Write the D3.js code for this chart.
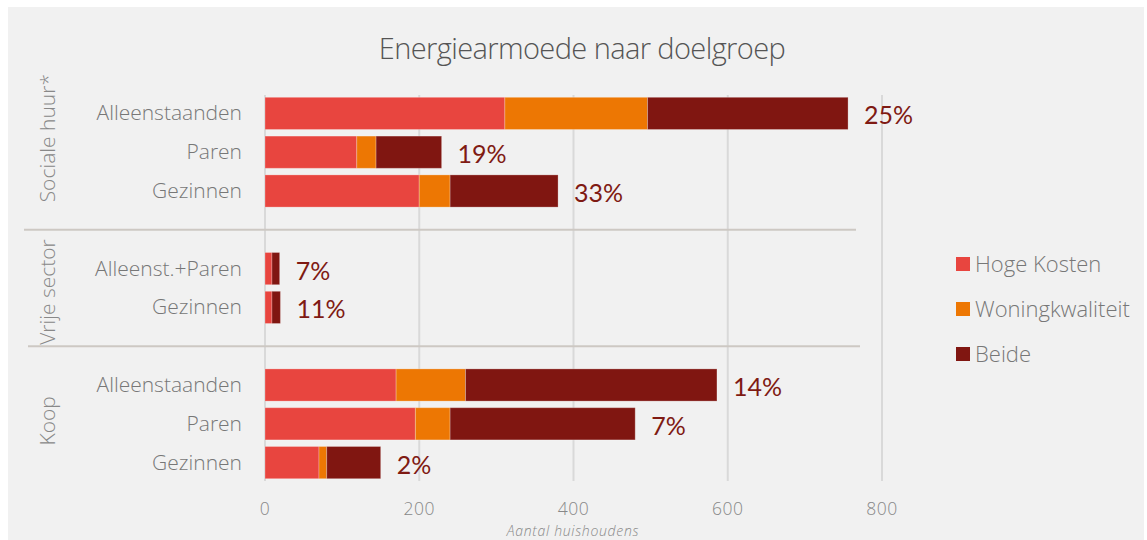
<!DOCTYPE html>
<html lang="nl">
<head>
<meta charset="UTF-8">
<title>Energiearmoede naar doelgroep</title>
<script src="https://d3js.org/d3.v7.min.js"></script>
<style>
  body { margin: 0; background: #fff; }
  text { font-family: "Open Sans", "Noto Sans", sans-serif; }
</style>
</head>
<body>
<div id="chart"></div>

<script>
// Data
const rows = ["s0", "s1", "s2", "gap1", "v0", "v1", "gap2", "k0", "k1", "k2"];
const rowLabels = ["Alleenstaanden", "Paren", "Gezinnen", "", "Alleenst.+Paren", "Gezinnen", "", "Alleenstaanden", "Paren", "Gezinnen"];
const hogeKosten = [311, 119, 200, null, 9, 9, null, 170, 195, 70];
const woningkwaliteit = [185, 25, 40, null, 0, 0, null, 90, 45, 10];
const beide = [260, 85, 140, null, 10, 11, null, 326, 240, 70];
const percentages = ["25%", "19%", "33%", "", "7%", "11%", "", "14%", "7%", "2%"];
const groupNames = ["Sociale huur*", "Vrije sector", "Koop"];
const groupRows = [["s0", "s2"], ["v0", "v1"], ["k0", "k2"]];
const seriesNames = ["Hoge Kosten", "Woningkwaliteit", "Beide"];
const colors = ["#e8453f", "#ed7703", "#801611"];
const xTicks = [0, 200, 400, 600, 800];

const W = 1147, H = 540;
const margin = { top: 94, left: 265 };
const plotW = 617;  // 0..800
const groupShift = [-14, 4, -3];  // small vertical nudges of the rotated group labels

const svg = d3.select("#chart").append("svg")
  .attr("width", W)
  .attr("height", H);

// Panel background
svg.append("rect")
  .attr("x", 8).attr("y", 7)
  .attr("width", W - 11).attr("height", H - 7)
  .attr("fill", "#f1f1f1");

const x = d3.scaleLinear().domain([0, 800]).range([margin.left, margin.left + plotW]);
const y = d3.scaleBand().domain(rows).range([margin.top, 482]).paddingInner(0.17).paddingOuter(0.085);

// Title
svg.append("text")
  .attr("x", 582).attr("y", 59)
  .attr("text-anchor", "middle")
  .attr("fill", "#555")
  .style("font-size", "29px")
  .style("font-weight", 300)
  .style("letter-spacing", "-0.6px")
  .text("Energiearmoede naar doelgroep");

// Vertical gridlines
svg.append("g").selectAll("line")
  .data(xTicks)
  .join("line")
  .attr("x1", d => x(d)).attr("x2", d => x(d))
  .attr("y1", 95).attr("y2", 481)
  .attr("stroke", "#d9d9d9")
  .attr("stroke-width", 2);

// Group dividers
const dividerData = [
  { y: (y("s2") + y.bandwidth() + y("v0")) / 2, x1: 24, x2: 856 },
  { y: (y("v1") + y.bandwidth() + y("k0")) / 2, x1: 28, x2: 860 }
];
svg.append("g").selectAll("line")
  .data(dividerData)
  .join("line")
  .attr("x1", d => d.x1).attr("x2", d => d.x2)
  .attr("y1", d => d.y).attr("y2", d => d.y)
  .attr("stroke", "#cdc8c3")
  .attr("stroke-width", 2);

// Stacked bars
const table = rows.map((r, i) => ({
  row: r,
  "Hoge Kosten": hogeKosten[i] || 0,
  "Woningkwaliteit": woningkwaliteit[i] || 0,
  "Beide": beide[i] || 0,
  empty: hogeKosten[i] === null
})).filter(d => !d.empty);

const stack = d3.stack().keys(seriesNames)(table);

svg.append("g").selectAll("g")
  .data(stack)
  .join("g")
  .attr("fill", (d, i) => colors[i])
  .selectAll("rect")
  .data(d => d.filter(p => p[1] > p[0]))
  .join("rect")
  .attr("x", d => x(d[0]))
  .attr("y", d => y(d.data.row))
  .attr("width", d => x(d[1]) - x(d[0]))
  .attr("height", y.bandwidth())
  .attr("stroke", "rgba(255,255,255,0.25)")
  .attr("stroke-width", 1);

// Percent labels
svg.append("g").selectAll("text")
  .data(table)
  .join("text")
  .attr("x", d => x(d["Hoge Kosten"] + d["Woningkwaliteit"] + d["Beide"]) + 16)
  .attr("y", d => y(d.row) + y.bandwidth() / 2 + 11)
  .attr("fill", "#7f1a13")
  .style("font-size", "25px")
  .style("font-family", "Lato, 'Open Sans', sans-serif")
  .text(d => percentages[rows.indexOf(d.row)]);

// Row labels
svg.append("g").selectAll("text")
  .data(rows.filter((r, i) => rowLabels[i] !== ""))
  .join("text")
  .attr("x", 242)
  .attr("y", d => y(d) + y.bandwidth() / 2 + 7)
  .attr("text-anchor", "end")
  .attr("fill", "#777")
  .style("font-size", "21px")
  .style("font-weight", 300)
  .text(d => rowLabels[rows.indexOf(d)]);

// Group labels (rotated)
svg.append("g").selectAll("text")
  .data(groupNames)
  .join("text")
  .attr("transform", (d, i) => {
    const cy = (y(groupRows[i][0]) + y(groupRows[i][1]) + y.bandwidth()) / 2 + groupShift[i];
    return `translate(55,${cy}) rotate(-90)`;
  })
  .attr("text-anchor", "middle")
  .attr("fill", "#888")
  .style("font-size", "21px")
  .style("font-weight", 300)
  .text(d => d);

// X axis tick labels
svg.append("g").selectAll("text")
  .data(xTicks)
  .join("text")
  .attr("x", d => x(d))
  .attr("y", 514.5)
  .attr("text-anchor", "middle")
  .attr("fill", "#888")
  .style("font-size", "17.5px")
  .style("font-weight", 300)
  .style("letter-spacing", "0.5px")
  .text(d => d);

svg.append("text")
  .attr("x", 573).attr("y", 535.5)
  .attr("text-anchor", "middle")
  .attr("fill", "#888")
  .style("font-size", "14px")
  .style("font-style", "italic")
  .style("font-weight", 300)
  .style("letter-spacing", "0.7px")
  .text("Aantal huishoudens");

// Legend
const legend = svg.append("g").attr("transform", "translate(956,257)");
const item = legend.selectAll("g")
  .data(seriesNames)
  .join("g")
  .attr("transform", (d, i) => `translate(0,${i * 45})`);
item.append("rect")
  .attr("width", 14).attr("height", 14)
  .attr("fill", (d, i) => colors[i]);
item.append("text")
  .attr("x", 19).attr("y", 15)
  .attr("fill", "#777")
  .style("font-size", "22px")
  .style("font-weight", 300)
  .text(d => d);
</script>
</body>
</html>
